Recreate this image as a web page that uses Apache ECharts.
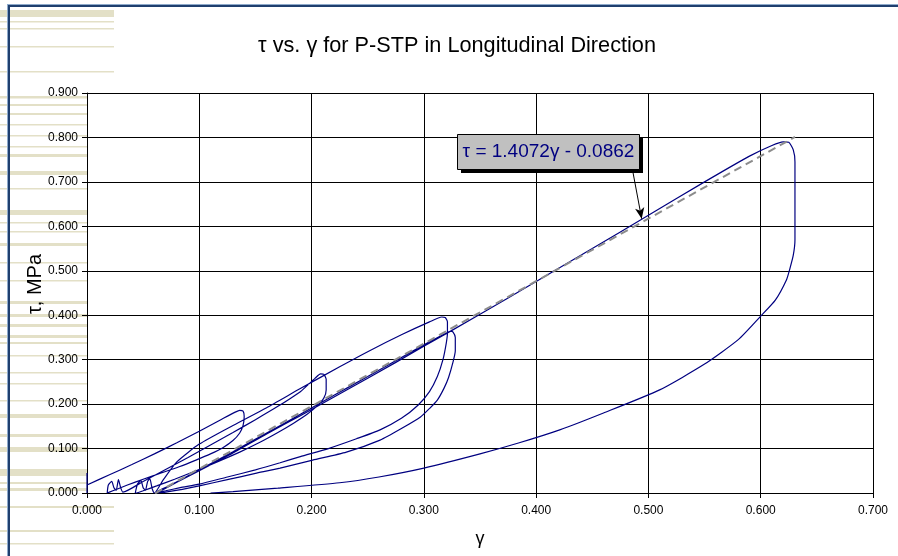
<!DOCTYPE html>
<html>
<head>
<meta charset="utf-8">
<script src="https://cdn.jsdelivr.net/npm/echarts@6/dist/echarts.min.js"></script>
<style>
  html, body { margin: 0; padding: 0; background: #ffffff; }
  #chart { width: 898px; height: 556px; }
</style>
</head>
<body>
<div id="chart"></div>
<script>
// Cyclic shear test of P-STP, longitudinal direction: shear strain (gamma) vs shear stress (tau, MPa).
// Each cycle is a loading branch followed by an unloading branch, in recorded order.
const initialRise = [[0, 0], [0, 0.045], [0, 0.018]];
const loadC = [[0, 0.018], [0.02, 0.041], [0.04, 0.064], [0.06, 0.088], [0.08, 0.113], [0.10, 0.139], [0.12, 0.166], [0.132, 0.182], [0.136, 0.186]];
const unloadC = [[0.139, 0.184], [0.140, 0.172], [0.139, 0.152], [0.136, 0.135], [0.130, 0.118], [0.121, 0.102], [0.110, 0.088], [0.097, 0.074], [0.082, 0.059], [0.066, 0.045], [0.050, 0.031], [0.036, 0.018], [0.026, 0.008], [0.020, 0.002]];
const smallA = [[0.018, 0.0], [0.019, 0.018], [0.022, 0.026], [0.024, 0.012], [0.026, 0.006], [0.028, 0.030], [0.030, 0.012], [0.032, 0.002]];
const loadD = [[0.032, 0.002], [0.05, 0.026], [0.07, 0.053], [0.09, 0.080], [0.11, 0.108], [0.13, 0.136], [0.15, 0.165], [0.17, 0.195], [0.19, 0.228], [0.203, 0.258], [0.208, 0.268]];
const unloadD = [[0.211, 0.267], [0.213, 0.256], [0.213, 0.232], [0.211, 0.214], [0.205, 0.196], [0.196, 0.177], [0.184, 0.157], [0.170, 0.136], [0.154, 0.114], [0.136, 0.092], [0.116, 0.070], [0.096, 0.049], [0.078, 0.031], [0.062, 0.016], [0.050, 0.005], [0.044, 0.0]];
const smallB = [[0.043, 0.0], [0.045, 0.020], [0.048, 0.028], [0.050, 0.012], [0.052, 0.006], [0.054, 0.026], [0.056, 0.032], [0.058, 0.010], [0.060, 0.0]];
const loadE = [[0.060, 0.0], [0.068, 0.030], [0.080, 0.070], [0.10, 0.110], [0.13, 0.152], [0.16, 0.192], [0.19, 0.235], [0.225, 0.284], [0.25, 0.318], [0.28, 0.356], [0.305, 0.385], [0.316, 0.396]];
const unloadE = [[0.319, 0.395], [0.321, 0.385], [0.321, 0.360], [0.320, 0.338], [0.317, 0.300], [0.312, 0.262], [0.305, 0.228], [0.295, 0.198], [0.280, 0.168], [0.261, 0.142], [0.240, 0.122], [0.215, 0.100], [0.190, 0.082], [0.172, 0.068], [0.150, 0.052], [0.125, 0.036], [0.100, 0.020], [0.083, 0.012], [0.070, 0.005], [0.060, 0.0]];
const loadF = [[0.060, 0.0], [0.08, 0.025], [0.10, 0.052], [0.13, 0.093], [0.16, 0.135], [0.19, 0.177], [0.22, 0.220], [0.25, 0.262], [0.28, 0.305], [0.305, 0.340], [0.320, 0.360], [0.324, 0.364]];
const unloadF = [[0.326, 0.362], [0.328, 0.350], [0.328, 0.320], [0.326, 0.295], [0.322, 0.260], [0.318, 0.236], [0.312, 0.209], [0.305, 0.190], [0.297, 0.171], [0.280, 0.145], [0.261, 0.119], [0.231, 0.092], [0.201, 0.074], [0.172, 0.056], [0.150, 0.044], [0.125, 0.030], [0.100, 0.016], [0.085, 0.008], [0.070, 0.002], [0.062, 0.0]];
const loadG = [[0.062, 0.0], [0.08, 0.024], [0.10, 0.050], [0.13, 0.090], [0.16, 0.133], [0.19, 0.174], [0.21, 0.202], [0.25, 0.258], [0.30, 0.330], [0.35, 0.402], [0.40, 0.476], [0.45, 0.550], [0.50, 0.625], [0.55, 0.700], [0.59, 0.758], [0.61, 0.782], [0.62, 0.790]];
const unloadG = [[0.625, 0.789], [0.629, 0.772], [0.6305, 0.745], [0.6305, 0.650], [0.6305, 0.570], [0.629, 0.535], [0.626, 0.505], [0.623, 0.480], [0.613, 0.434], [0.600, 0.398], [0.580, 0.345], [0.550, 0.290], [0.510, 0.232], [0.460, 0.180], [0.421, 0.142], [0.385, 0.113], [0.350, 0.088], [0.300, 0.056], [0.260, 0.036], [0.225, 0.023], [0.170, 0.011], [0.130, 0.003], [0.110, 0.0]];

// Linear trendline fitted to the whole record: tau = slope * gamma + intercept
const trendSlope = 1.4072;
const trendIntercept = -0.0862;
const trendRange = [0, 0.6305];
const trendLabel = 'τ = 1.4072γ - 0.0862';
// Point on the trendline the callout arrow refers to, and where the arrow leaves the callout
const calloutTarget = [0.494, 0.617];
const calloutAnchor = [0.4862, 0.722];

const xTicks = { min: 0, max: 0.7, step: 0.1 };
const yTicks = { min: 0, max: 0.9, step: 0.1 };

const titleText = 'τ vs. γ for P-STP in Longitudinal Direction';
const xName = 'γ';
const yName = 'τ, MPa';

const curve = [].concat(initialRise, loadC, unloadC, smallA, loadD, unloadD, smallB,
  loadE, unloadE, loadF, unloadF, loadG, unloadG);
const trend = trendRange.map(g => [g, trendSlope * g + trendIntercept]);

// Decorative beige rules down the left margin: [top, thickness]
const marginRules = [[10, 7], [21, 1.5], [28, 1.5], [46, 1.5], [71, 1.5], [96, 2.5], [104, 2], [113, 2], [124, 1.5], [135, 1.5], [146, 1.5], [154, 3], [171, 4], [188, 1.5], [210, 5], [222, 1.5], [231, 1.5], [243, 3], [262, 1.5], [280, 1.5], [301, 3], [314, 3], [324, 3], [335, 3], [342, 2], [355, 1.5], [372, 1.5], [383, 1.5], [400, 1.5], [414, 4], [434, 3], [447, 5], [469, 7], [482, 2], [488, 3], [506, 2], [530, 2], [543, 1.5]];

const FONT = '"Liberation Sans", Arial, sans-serif';
const plot = { left: 87, top: 93, right: 873, bottom: 493 };

const graphics = [];
marginRules.forEach(([y, h]) => {
  const insidePlot = y + h > plot.top && y < plot.bottom;
  graphics.push({
    type: 'rect', silent: true, z: -10,
    shape: { x: 0, y: y, width: insidePlot ? plot.left : 114, height: h },
    style: { fill: '#e3e0c7' }
  });
});
// Frame lines along the top and left edges
graphics.push(
  { type: 'rect', silent: true, shape: { x: 7, y: 4, width: 891, height: 1 }, style: { fill: '#8eaacb' } },
  { type: 'rect', silent: true, shape: { x: 8, y: 5, width: 890, height: 2 }, style: { fill: '#1f3f6e' } },
  { type: 'rect', silent: true, shape: { x: 7, y: 4, width: 1, height: 552 }, style: { fill: '#8eaacb' } },
  { type: 'rect', silent: true, shape: { x: 8, y: 5, width: 2, height: 551 }, style: { fill: '#1f3f6e' } }
);
// Equation callout: shadow, box, text
graphics.push(
  { type: 'rect', silent: true, z: 20, shape: { x: 461, y: 138, width: 182, height: 35 }, style: { fill: '#000000' } },
  { type: 'rect', silent: true, z: 21, shape: { x: 457.5, y: 134.5, width: 182, height: 35 }, style: { fill: '#c0c0c0', stroke: '#000000', lineWidth: 1 } },
  { type: 'text', silent: true, z: 22, x: 548.5, y: 152, style: { text: trendLabel, font: '19px ' + FONT, fill: '#000080', align: 'center', verticalAlign: 'middle' } }
);
// Vertical axis title, set a little above the plot's mid-height
graphics.push({
  type: 'text', silent: true, x: 35, y: 284, rotation: Math.PI / 2,
  style: { text: yName, font: '20px ' + FONT, fill: '#000000', align: 'center', verticalAlign: 'middle' }
});

const chart = echarts.init(document.getElementById('chart'), null, { renderer: 'canvas' });
chart.setOption({
  animation: false,
  backgroundColor: '#ffffff',
  title: {
    text: titleText, left: 452, top: 30, textAlign: 'center',
    textStyle: { fontFamily: FONT, fontSize: 21.7, fontWeight: 'normal', color: '#000000' }
  },
  grid: {
    left: plot.left, top: plot.top, right: 898 - plot.right, bottom: 556 - plot.bottom,
    show: true, backgroundColor: '#ffffff', borderWidth: 0
  },
  xAxis: {
    type: 'value', min: xTicks.min, max: xTicks.max, interval: xTicks.step,
    name: xName, nameLocation: 'middle', nameGap: 37,
    nameTextStyle: { fontFamily: FONT, fontSize: 18, color: '#000000' },
    axisLine: { show: true, onZero: false, lineStyle: { color: '#000000', width: 1 } },
    axisTick: { show: true, inside: false, length: 5, lineStyle: { color: '#000000' } },
    axisLabel: { margin: 12, fontFamily: FONT, fontSize: 12, color: '#000000', formatter: v => v.toFixed(3) },
    splitLine: { show: true, lineStyle: { color: '#000000', width: 1 } }
  },
  yAxis: {
    type: 'value', min: yTicks.min, max: yTicks.max, interval: yTicks.step,
    axisLine: { show: true, onZero: false, lineStyle: { color: '#000000', width: 1 } },
    axisTick: { show: true, inside: false, length: 5, lineStyle: { color: '#000000' } },
    axisLabel: { margin: 9, fontFamily: FONT, fontSize: 12, color: '#000000', formatter: v => v.toFixed(3) },
    splitLine: { show: true, lineStyle: { color: '#000000', width: 1 } }
  },
  series: [
    {
      name: 'Trendline', type: 'line', data: trend, showSymbol: false, silent: true, z: 3,
      lineStyle: { color: '#8c8c8c', width: 2, type: [8, 5] },
      markLine: {
        silent: true, symbol: ['none', 'arrow'], symbolSize: [7, 11],
        label: { show: false },
        lineStyle: { color: '#000000', width: 1, type: 'solid' },
        data: [[{ coord: calloutAnchor }, { coord: calloutTarget }]]
      }
    },
    {
      name: 'τ–γ record', type: 'line', data: curve, showSymbol: false, silent: true, z: 2,
      smooth: 0.2,
      lineStyle: { color: '#000080', width: 1.2 }
    }
  ],
  graphic: graphics
});
</script>
</body>
</html>
